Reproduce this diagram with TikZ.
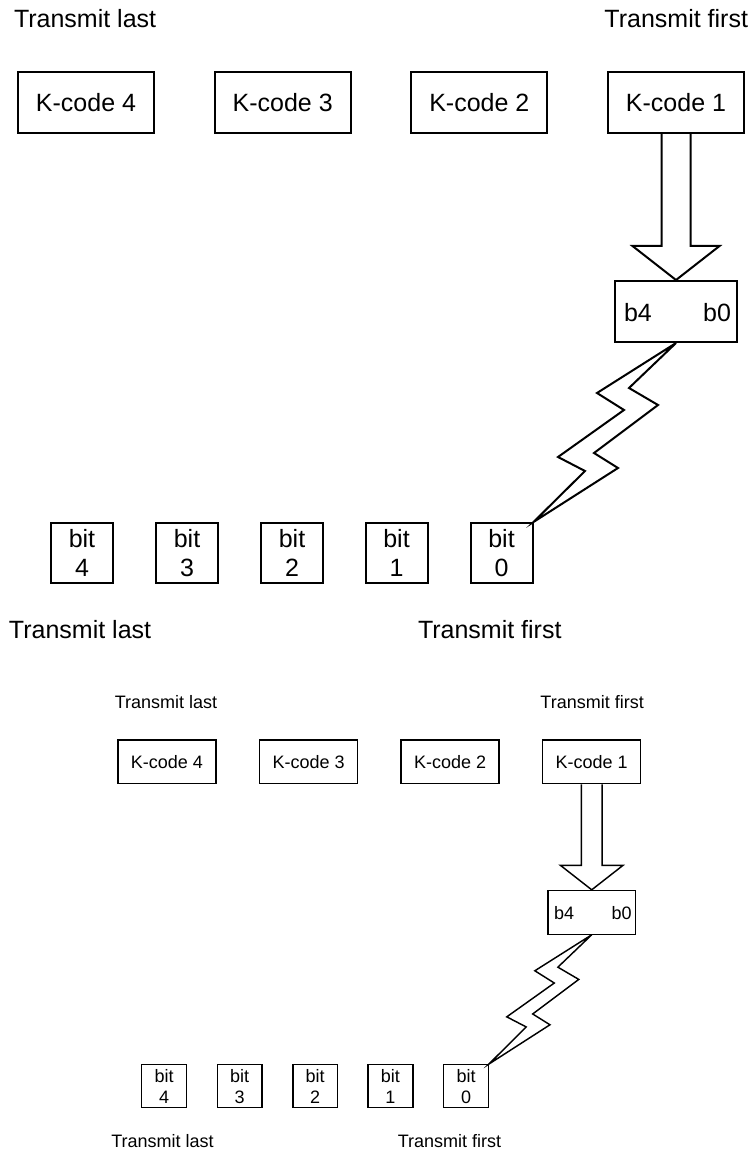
\documentclass[tikz,border=0pt]{standalone}
\usepackage{fontspec}
\setmainfont{Liberation Sans}
\usetikzlibrary{calc}

\tikzset{
  txt/.style={inner sep=0pt, font=\fontsize{25}{29}\selectfont},
  kbox/.style={draw, inner sep=0pt, minimum width=136pt, minimum height=61pt,
    font=\fontsize{25}{29}\selectfont},
  regbox/.style={draw, inner sep=0pt, minimum width=122pt, minimum height=61pt},
  bitbox/.style={draw, inner sep=0pt, minimum width=62pt, minimum height=60pt,
    align=center, font=\fontsize{25}{29}\selectfont},
}

% One complete frame: K-codes, block arrow, register, lightning link, bits.
% #1 = prefix for node names, #2 = x of the lower "Transmit first" label
\newcommand\kcodeframe[2]{%
  \node[txt, anchor=base west] (#1tl) at (13,28) {Transmit last};
  \node[txt, anchor=base east] (#1tf) at (749,28) {Transmit first};
  \node[kbox] (#1k4) at (86,102.5) {K-code 4};
  \node[kbox] (#1k3) at (282.7,102.5) {K-code 3};
  \node[kbox] (#1k2) at (479.3,102.5) {K-code 2};
  \node[kbox] (#1k1) at (676,102.5) {K-code 1};
  \node[regbox] (#1reg) at (676,311.5) {};
  \node[txt, anchor=base west] (#1b4) at (623,321) {b4};
  \node[txt, anchor=base east] (#1b0) at (732,321) {b0};
  \node[bitbox] (#1bit4) at (82,553) {bit\\4};
  \node[bitbox] (#1bit3) at (187,553) {bit\\3};
  \node[bitbox] (#1bit2) at (292,553) {bit\\2};
  \node[bitbox] (#1bit1) at (396.5,553) {bit\\1};
  \node[bitbox] (#1bit0) at (501.5,553) {bit\\0};
  \node[txt, anchor=base west] (#1bl) at (8,638) {Transmit last};
  \node[txt, anchor=base west] (#1bf) at (#2,638) {Transmit first};
  % hollow block arrow from K-code 1 into the register
  \draw ($(#1k1.south)+(-14.5,0)$) -- ($(#1reg.north)+(-14.5,-34)$)
    -- ($(#1reg.north)+(-43.5,-34)$) -- (#1reg.north)
    -- ($(#1reg.north)+(43.5,-34)$) -- ($(#1reg.north)+(14.5,-34)$)
    -- ($(#1k1.south)+(14.5,0)$);
  % lightning-shaped serial link from the register to bit 0
  \draw (#1reg.south) -- ($(#1reg.south)+(-79,50)$) -- ($(#1reg.south)+(-52,67)$)
    -- ($(#1reg.south)+(-118,114)$) -- ($(#1reg.south)+(-91,128)$)
    -- (#1bit0.north east)
    -- ($(#1reg.south)+(-58,125)$) -- ($(#1reg.south)+(-82,110)$)
    -- ($(#1reg.south)+(-18,62)$) -- ($(#1reg.south)+(-47,45)$) -- cycle;
}

\begin{document}
\begin{tikzpicture}[x=1pt, y=-1pt]
  \useasboundingbox (0,0) rectangle (752,1155);
  \begin{scope}[line width=2pt]
    \kcodeframe{a}{417}
  \end{scope}
  \begin{scope}[shift={(105,688)}, scale=0.72, transform shape, line width=1.45pt]
    \kcodeframe{b}{406}
  \end{scope}
\end{tikzpicture}
\end{document}
